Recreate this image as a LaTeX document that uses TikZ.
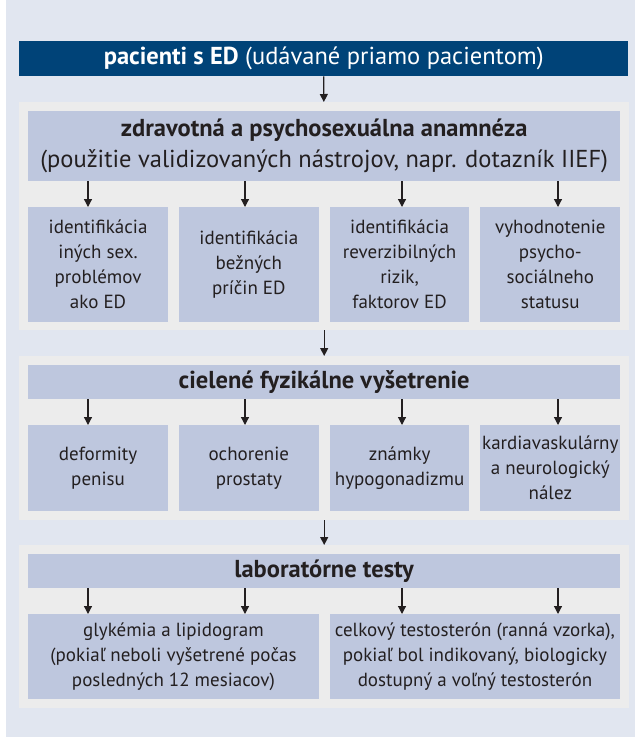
\documentclass[tikz,border=0pt]{standalone}
\usepackage{fontspec}
\setmainfont{PT Sans}
\usetikzlibrary{arrows.meta}

\definecolor{pozadie}{HTML}{E1E6F0}
\definecolor{sivy}{HTML}{ECECEC}
\definecolor{modry}{HTML}{BEC7DE}
\definecolor{tmavomodry}{HTML}{004378}
\definecolor{pismo}{HTML}{231F20}

\tikzset{
    krabica/.style={fill=modry, text=pismo, align=center, inner sep=0pt,
        anchor=north west, font=\fontsize{19}{25}\selectfont},
    nadpis/.style={krabica, minimum width=592, font=\fontsize{24.5}{31}\selectfont},
    panel/.style={fill=sivy, inner sep=0pt, anchor=north west,
        minimum width=610},
    sipka/.style={-{Triangle[width=8pt,length=8pt]}, line width=1.2pt, draw=pismo},
}

\begin{document}
\begin{tikzpicture}[x=1pt, y=-1pt]
    % Rozmery
    \def\w{139.75}
    \def\g{11}

    \useasboundingbox (0,0) rectangle (635,737);
    \fill[pozadie] (6,0) rectangle (635,737);

    % Horny pruh
    \node[nadpis, fill=tmavomodry, text=white, minimum width=609, minimum height=35]
        (bar) at (19,41) {\textbf{pacienti s ED} (udávané priamo pacientom)};

    % Sive panely
    \node[panel, minimum height=228] (p1) at (19,102) {};
    \node[panel, minimum height=164] (p2) at (19,356) {};
    \node[panel, minimum height=163] (p3) at (19,545) {};

    % Nadpisy
    \node[nadpis, minimum height=70] (h1) at (28,111)
        {\textbf{zdravotná a psychosexuálna anamnéza}\\(použitie validizovaných nástrojov, napr. dotazník IIEF)};
    \node[nadpis, minimum height=34] (h2) at (28,365)
        {\textbf{cielené fyzikálne vyšetrenie}};
    \node[nadpis, minimum height=34] (h3) at (28,554)
        {\textbf{laboratórne testy}};

    % Prvy rad
    \foreach \t [count=\i from 0] in {
        {identifikácia\\iných sex.\\problémov\\ako ED},
        {identifikácia\\bežných\\príčin ED},
        {identifikácia\\reverzibilných\\rizik,\\faktorov ED},
        {vyhodnotenie\\psycho-\\sociálneho\\statusu}} {
        \node[krabica, minimum width=\w, minimum height=115]
            (a\i) at ({28+\i*(\w+\g)},207) {\t};
    }

    % Druhy rad
    \foreach \t [count=\i from 0] in {
        {deformity\\penisu},
        {ochorenie\\prostaty},
        {známky\\hypogonadizmu},
        {kardiavaskulárny\\a neurologický\\nález}} {
        \node[krabica, minimum width=\w, minimum height=86]
            (b\i) at ({28+\i*(\w+\g)},425) {\t};
    }

    % Treti rad
    \node[krabica, minimum width=290.5, minimum height=85] (c0) at (28,614)
        {glykémia a lipidogram\\(pokiaľ neboli vyšetrené počas\\posledných 12 mesiacov)};
    \node[krabica, minimum width=290.5, minimum height=85] (c1) at (329.5,614)
        {celkový testosterón (ranná vzorka),\\pokiaľ bol indikovaný, biologicky\\dostupný a voľný testosterón};

    % Polohy sipok
    \coordinate (k0) at (88,0);
    \coordinate (k1) at (245,0);
    \coordinate (k2) at (402,0);
    \coordinate (k3) at (558,0);

    % Sipky
    \draw[sipka] (bar) -- (p1);
    \draw[sipka] (p1) -- (p2);
    \draw[sipka] (p2) -- (p3);
    \foreach \i in {0,...,3} {
        \draw[sipka] (h1.south -| k\i) -- (a\i.north -| k\i);
        \draw[sipka] (h2.south -| k\i) -- (b\i.north -| k\i);
    }
    \draw[sipka] (h3.south -| k0) -- (c0.north -| k0);
    \draw[sipka] (h3.south -| k1) -- (c0.north -| k1);
    \draw[sipka] (h3.south -| k2) -- (c1.north -| k2);
    \draw[sipka] (h3.south -| k3) -- (c1.north -| k3);
\end{tikzpicture}
\end{document}
